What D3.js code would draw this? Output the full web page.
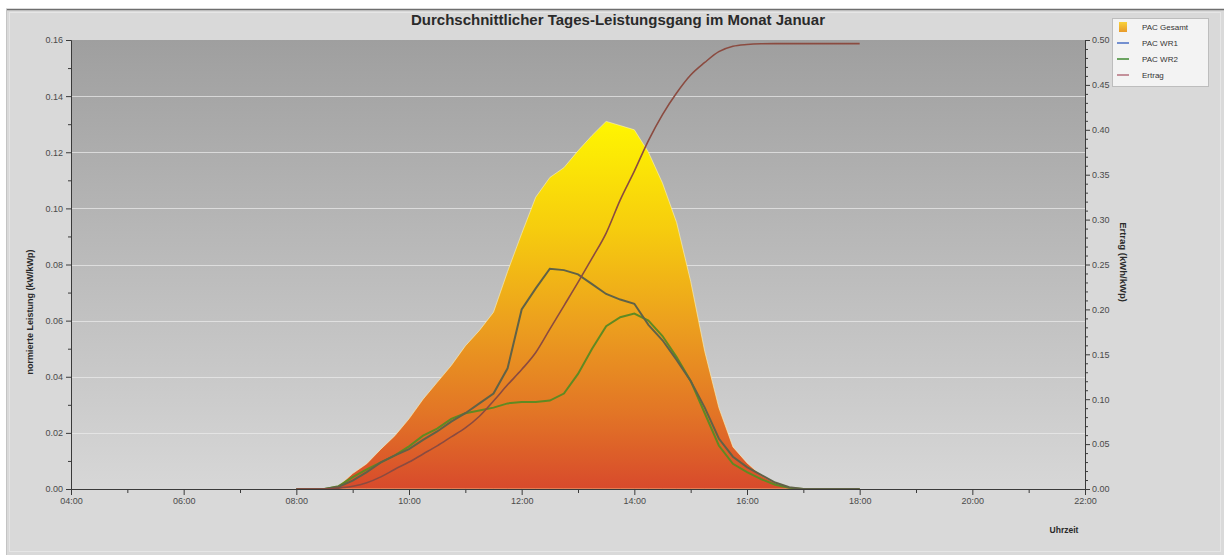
<!DOCTYPE html>
<html>
<head>
<meta charset="utf-8">
<script src="https://cdn.jsdelivr.net/npm/d3@7"></script>
<style>
  body { margin: 0; background: #fff; font-family: "Liberation Sans", Arial, sans-serif; }
  svg text { font-family: "Liberation Sans", Arial, sans-serif; }
</style>
</head>
<body>
<svg id="chart"></svg>
<script>
// Zeitpunkte (Viertelstunden) und Messreihen
const times = ["08:00","08:15","08:30","08:45","09:00","09:15","09:30","09:45",
  "10:00","10:15","10:30","10:45","11:00","11:15","11:30","11:45",
  "12:00","12:15","12:30","12:45","13:00","13:15","13:30","13:45",
  "14:00","14:15","14:30","14:45","15:00","15:15","15:30","15:45",
  "16:00","16:15","16:30","16:45","17:00","17:15","17:30","17:45","18:00"];

const pacGesamt = [0,0,0,0.001,0.0055,0.009,0.0142,0.019,
  0.025,0.032,0.038,0.044,0.051,0.0565,0.063,0.0775,
  0.091,0.104,0.111,0.1145,0.1205,0.126,0.131,0.1295,
  0.128,0.120,0.109,0.095,0.074,0.049,0.029,0.015,
  0.0093,0.0048,0.0022,0.0006,0,0,0,0,0];

const pacWR1 = [0,0,0,0.0008,0.003,0.006,0.0095,0.012,
  0.0142,0.0175,0.0205,0.024,0.027,0.0305,0.034,0.043,
  0.064,0.0715,0.0785,0.078,0.0765,0.073,0.0695,0.0675,
  0.066,0.0585,0.053,0.046,0.0385,0.029,0.018,0.0115,
  0.0078,0.005,0.0023,0.0006,0,0,0,0,0];

const pacWR2 = [0,0,0,0.001,0.0042,0.007,0.0095,0.012,
  0.0152,0.019,0.0215,0.025,0.027,0.028,0.029,0.0305,
  0.031,0.031,0.0315,0.034,0.041,0.050,0.058,0.0612,
  0.0625,0.060,0.0545,0.047,0.0385,0.027,0.0155,0.009,
  0.006,0.0035,0.0015,0.0004,0,0,0,0,0];

const ertrag = [0,0,0,0.001,0.003,0.007,0.0135,0.022,
  0.030,0.039,0.048,0.058,0.068,0.081,0.098,0.116,
  0.133,0.152,0.178,0.204,0.230,0.257,0.285,0.322,
  0.354,0.388,0.417,0.441,0.461,0.475,0.487,0.493,
  0.495,0.4958,0.496,0.496,0.496,0.496,0.496,0.496,0.496];

const xTickHours = [4,6,8,10,12,14,16,18,20,22];
const leftTicks = [0,0.02,0.04,0.06,0.08,0.10,0.12,0.14,0.16];
const rightTicks = [0,0.05,0.10,0.15,0.20,0.25,0.30,0.35,0.40,0.45,0.50];
const legendItems = ["PAC Gesamt", "PAC WR1", "PAC WR2", "Ertrag"];

const width = 1224, height = 555;
const plot = {left: 71, right: 1085, top: 40, bottom: 489};

function toHours(t) {
  let p = t.split(":");
  return +p[0] + (+p[1]) / 60;
}

function main() {
  let svg = d3.select("#chart").attr("width", width).attr("height", height);
  let defs = svg.append("defs");

  let x = d3.scaleLinear().domain([4, 22]).range([plot.left, plot.right]);
  let yL = d3.scaleLinear().domain([0, 0.16]).range([plot.bottom, plot.top]);
  let yR = d3.scaleLinear().domain([0, 0.5]).range([plot.bottom, plot.top]);

  // Hintergrund
  svg.append("rect").attr("x", 6).attr("y", 9).attr("width", width - 6).attr("height", height - 9)
    .attr("fill", "#d9d9d9");
  svg.append("line").attr("x1", 6).attr("x2", width).attr("y1", 9.5).attr("y2", 9.5)
    .attr("stroke", "#6e6e6e").attr("stroke-width", 1.5);
  svg.append("line").attr("x1", 6.5).attr("x2", 6.5).attr("y1", 9).attr("y2", height)
    .attr("stroke", "#c4c4c4");
  svg.append("rect").attr("x", 9.5).attr("y", 12.5).attr("width", width - 13).attr("height", height - 16)
    .attr("fill", "none").attr("stroke", "#e6e6e6");

  let bg = defs.append("linearGradient").attr("id", "bgGrad")
    .attr("x1", 0).attr("y1", 0).attr("x2", 0).attr("y2", 1);
  bg.append("stop").attr("offset", 0).attr("stop-color", "#9f9f9f");
  bg.append("stop").attr("offset", 1).attr("stop-color", "#d7d7d7");

  svg.append("rect").attr("x", plot.left).attr("y", plot.top)
    .attr("width", plot.right - plot.left).attr("height", plot.bottom - plot.top)
    .attr("fill", "url(#bgGrad)");

  // Gitterlinien
  svg.append("g").selectAll("line").data(leftTicks.slice(1, -1)).join("line")
    .attr("x1", plot.left).attr("x2", plot.right)
    .attr("y1", d => Math.round(yL(d)) + 0.5).attr("y2", d => Math.round(yL(d)) + 0.5)
    .attr("stroke", "#ececec").attr("stroke-opacity", 0.7);

  // Fläche PAC Gesamt
  let data = times.map((t, i) => ({
    h: toHours(t), g: pacGesamt[i], w1: pacWR1[i], w2: pacWR2[i], e: ertrag[i]
  }));

  let areaGrad = defs.append("linearGradient").attr("id", "areaGrad")
    .attr("gradientUnits", "userSpaceOnUse")
    .attr("x1", 0).attr("x2", 0).attr("y1", yL(0.132)).attr("y2", yL(0));
  [[0, "#fff700"], [0.3, "#f6cc0e"], [0.55, "#eca01e"], [0.8, "#e27426"], [1, "#d84a2c"]]
    .forEach(s => areaGrad.append("stop").attr("offset", s[0]).attr("stop-color", s[1]));

  let area = d3.area().x(d => x(d.h)).y0(yL(0)).y1(d => yL(d.g));
  svg.append("path").datum(data).attr("d", area)
    .attr("fill", "url(#areaGrad)")
    .attr("stroke", "#fff3b0").attr("stroke-opacity", 0.6).attr("stroke-width", 1);

  // Linien
  let lineW1 = d3.line().x(d => x(d.h)).y(d => yL(d.w1));
  let lineW2 = d3.line().x(d => x(d.h)).y(d => yL(d.w2));
  let lineE = d3.line().curve(d3.curveMonotoneX).x(d => x(d.h)).y(d => yR(d.e));

  svg.append("path").datum(data).attr("d", lineW2)
    .attr("fill", "none").attr("stroke", "#5f8a22").attr("stroke-width", 2);
  svg.append("path").datum(data).attr("d", lineW1)
    .attr("fill", "none").attr("stroke", "#606247").attr("stroke-width", 2);
  svg.append("path").datum(data).attr("d", lineE)
    .attr("fill", "none").attr("stroke", "#8b4b40").attr("stroke-width", 1.6);

  // Achsen
  let tickColor = "#3a3a3a";
  let labelColor = "#4a4a4a";

  let xAxis = d3.axisBottom(x).tickValues(xTickHours).tickSize(6).tickPadding(3)
    .tickFormat(h => d3.format("02d")(h) + ":00");
  svg.append("g").attr("transform", `translate(0,${plot.bottom})`).call(xAxis);
  let xMinor = d3.axisBottom(x).tickValues(d3.range(5, 22, 2)).tickSize(4).tickFormat("");
  svg.append("g").attr("transform", `translate(0,${plot.bottom})`).call(xMinor)
    .call(g => g.select(".domain").remove());

  let yAxisL = d3.axisLeft(yL).tickValues(leftTicks).tickSize(5).tickPadding(3)
    .tickFormat(d3.format(".2f"));
  svg.append("g").attr("transform", `translate(${plot.left},0)`).call(yAxisL);
  let yMinorL = d3.axisLeft(yL).tickValues(d3.range(0.01, 0.16, 0.02)).tickSize(3).tickFormat("");
  svg.append("g").attr("transform", `translate(${plot.left},0)`).call(yMinorL)
    .call(g => g.select(".domain").remove());

  let yAxisR = d3.axisRight(yR).tickValues(rightTicks).tickSize(5).tickPadding(2)
    .tickFormat(d3.format(".2f"));
  svg.append("g").attr("transform", `translate(${plot.right},0)`).call(yAxisR);
  let minorR = d3.range(1, 50).filter(i => i % 5 !== 0).map(i => i / 100);
  let yMinorR = d3.axisRight(yR).tickValues(minorR).tickSize(3).tickFormat("");
  svg.append("g").attr("transform", `translate(${plot.right},0)`).call(yMinorR)
    .call(g => g.select(".domain").remove());

  svg.selectAll(".domain").attr("stroke", tickColor);
  svg.selectAll(".tick line").attr("stroke", tickColor);
  svg.selectAll(".tick text").attr("fill", labelColor).style("font-size", "9px");

  // Titel und Achsenbeschriftungen
  svg.append("text").attr("x", 618).attr("y", 25).attr("text-anchor", "middle")
    .style("font-size", "15px").style("font-weight", "bold").attr("fill", "#2a2a2a")
    .text("Durchschnittlicher Tages-Leistungsgang im Monat Januar");

  svg.append("text").attr("transform", "translate(33,312) rotate(-90)")
    .attr("text-anchor", "middle").style("font-size", "9px").style("font-weight", "bold")
    .attr("fill", "#2a2a2a").text("normierte Leistung (kW/kWp)");

  svg.append("text").attr("transform", "translate(1120,262) rotate(90)")
    .attr("text-anchor", "middle").style("font-size", "9.5px").style("font-weight", "bold")
    .attr("fill", "#2a2a2a").text("Ertrag (kWh/kWp)");

  svg.append("text").attr("x", 1064).attr("y", 533).attr("text-anchor", "middle")
    .style("font-size", "8.5px").style("font-weight", "bold").attr("fill", "#2a2a2a")
    .text("Uhrzeit");

  // Legende
  let lg = svg.append("g").attr("transform", "translate(1112,18)");
  lg.append("rect").attr("x", 0.5).attr("y", 0.5).attr("width", 96).attr("height", 68)
    .attr("fill", "#f3f3f3").attr("stroke", "#bdbdbd");
  let iconGrad = defs.append("linearGradient").attr("id", "iconGrad")
    .attr("x1", 0).attr("y1", 0).attr("x2", 0).attr("y2", 1);
  iconGrad.append("stop").attr("offset", 0).attr("stop-color", "#f8d23a");
  iconGrad.append("stop").attr("offset", 1).attr("stop-color", "#e89a2a");
  let legendColors = [null, "#4a6fc4", "#3f8a32", "#b5707e"];
  legendItems.forEach((name, i) => {
    let yy = 9 + i * 16;
    if (i === 0) {
      lg.append("rect").attr("x", 7).attr("y", yy - 5).attr("width", 8).attr("height", 10)
        .attr("fill", "url(#iconGrad)");
    } else {
      lg.append("line").attr("x1", 5).attr("x2", 17).attr("y1", yy).attr("y2", yy)
        .attr("stroke", legendColors[i]).attr("stroke-width", 1.5);
    }
    lg.append("text").attr("x", 30).attr("y", yy + 3).style("font-size", "8px")
      .attr("fill", "#333").text(name);
  });
}
main();
</script>
</body>
</html>
